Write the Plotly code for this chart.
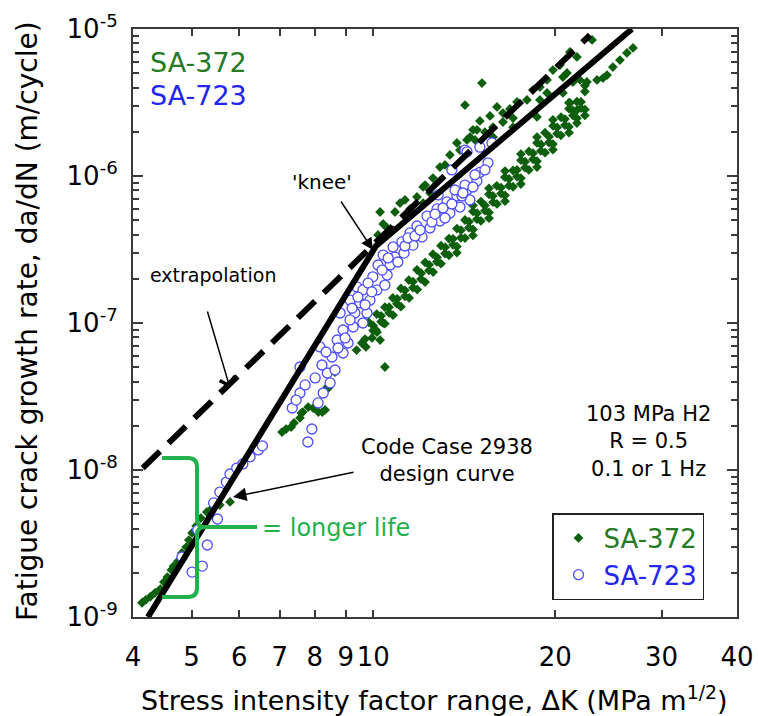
import plotly.graph_objects as go

# ---------------- data ----------------
# SA-372 (green diamonds)
sa372_dk = [
    # low-dK strand
    4.14, 4.20, 4.27, 4.35, 4.44, 4.50, 4.56, 4.63, 4.67, 4.75, 4.82, 4.90, 4.95, 5.01, 5.09, 5.18, 5.30, 5.41, 5.57, 5.79,
    # mid cluster
    7.06, 7.17, 7.31, 7.39, 7.56, 7.60, 7.64, 7.80, 7.95, 8.11, 8.23, 8.32, 8.42,
    8.39, 8.64, 9.38, 9.57, 9.72, 9.95, 10.26, 10.10, 10.38, 10.45,
    # main band
    9.83, 10.45, 11.11, 11.81, 12.55, 13.34, 14.18, 15.07, 16.01, 17.03, 18.10, 19.24, 20.45, 21.73,
    10.13, 10.77, 11.45, 12.18, 12.94, 13.75, 14.62, 15.54, 16.51, 17.56, 18.66, 19.84, 21.08, 22.40,
    9.99, 10.62, 11.28, 12.00, 12.75, 13.55, 14.40, 15.30, 16.27, 17.29, 18.38, 19.54, 20.76, 22.07,
    10.30, 10.95, 11.63, 12.37, 13.15, 13.97, 14.85, 15.77, 16.77, 17.83, 18.95, 20.15, 21.40,
    9.69, 10.30, 10.94, 11.63, 12.36, 13.14, 13.96, 14.84, 15.78, 16.77, 17.83, 18.94, 20.14, 21.40,
    9.99, 10.62, 11.28, 11.99, 12.74, 13.55, 14.39, 15.30, 16.27, 17.29, 18.38, 19.53, 20.76, 22.06,
    10.14, 10.78, 11.46, 12.18, 12.94, 13.75, 14.62, 15.54, 16.52, 17.55, 18.66, 19.83, 21.08, 22.40,
    10.45, 11.11, 11.82, 12.56, 13.34, 14.18, 15.07, 16.02, 17.03, 18.09, 19.24, 20.44, 21.73,
    14.62, 15.54, 16.52, 17.55, 18.66, 19.83, 21.08, 22.40,
    13.75, 14.62, 15.54, 16.52, 17.55, 18.66, 19.83, 21.08, 22.40,
    # scatter near the extrapolation line and upper tail
    10.18, 10.38, 10.54, 10.78, 10.26, 11.07, 11.37, 11.50, 11.81, 12.09, 12.09, 12.41, 12.55, 12.89,
    13.39, 13.75, 14.18, 14.29, 14.45, 14.62, 14.84, 15.01, 15.13, 15.60, 15.78, 16.02, 16.39, 16.83,
    17.03, 17.29, 17.96, 18.38, 18.66, 18.87, 18.87, 19.39, 19.39, 19.83, 20.37, 20.60, 20.60, 20.92,
    21.16, 21.16, 21.40, 21.73, 21.73, 21.73, 21.98, 22.57, 23.02, 23.46, 24.00, 24.37, 24.92, 25.60,
    26.29, 26.91,
    14.73, 15.30, 15.78, 16.39, 17.03, 13.91, 13.14, 12.18, 11.28, 10.86,
]
sa372_dadn = [
    1.25e-9, 1.31e-9, 1.37e-9, 1.46e-9, 1.55e-9, 1.73e-9, 1.87e-9, 2.09e-9, 2.22e-9, 2.40e-9, 2.73e-9, 2.99e-9, 3.34e-9, 3.73e-9, 4.16e-9, 4.71e-9, 5.18e-9, 5.51e-9, 5.78e-9, 6.06e-9,
    1.81e-8, 1.90e-8, 1.96e-8, 2.09e-8, 2.26e-8, 2.44e-8, 2.48e-8, 2.68e-8, 2.64e-8, 2.48e-8, 2.48e-8, 2.56e-8, 3.61e-8,
    3.67e-8, 4.64e-8, 6.55e-8, 7.31e-8, 6.87e-8, 7.91e-8, 7.66e-8, 8.96e-8, 1.00e-7, 5.02e-8,
    1.01e-7, 1.28e-7, 1.72e-7, 2.30e-7, 2.94e-7, 3.75e-7, 5.02e-7, 6.70e-7, 8.58e-7, 1.09e-6, 1.47e-6, 1.97e-6, 2.51e-6, 3.20e-6,
    1.15e-7, 1.48e-7, 1.96e-7, 2.58e-7, 3.36e-7, 4.39e-7, 5.74e-7, 7.50e-7, 9.81e-7, 1.28e-6, 1.68e-6, 2.19e-6, 2.87e-6, 3.75e-6,
    9.60e-8, 1.28e-7, 1.67e-7, 2.18e-7, 2.80e-7, 3.74e-7, 4.89e-7, 6.30e-7, 8.35e-7, 1.10e-6, 1.43e-6, 1.85e-6, 2.44e-6, 3.19e-6,
    1.12e-7, 1.46e-7, 1.91e-7, 2.49e-7, 3.27e-7, 4.28e-7, 5.59e-7, 7.31e-7, 9.55e-7, 1.25e-6, 1.64e-6, 2.14e-6, 2.79e-6,
    7.78e-8, 1.02e-7, 1.35e-7, 1.74e-7, 2.28e-7, 2.97e-7, 3.80e-7, 5.08e-7, 6.64e-7, 8.60e-7, 1.14e-6, 1.48e-6, 1.94e-6, 2.58e-6,
    8.89e-8, 1.17e-7, 1.52e-7, 1.99e-7, 2.61e-7, 3.40e-7, 4.45e-7, 5.81e-7, 7.59e-7, 9.92e-7, 1.30e-6, 1.69e-6, 2.22e-6, 2.90e-6,
    8.66e-8, 1.13e-7, 1.48e-7, 1.90e-7, 2.53e-7, 3.31e-7, 4.33e-7, 5.65e-7, 7.39e-7, 9.66e-7, 1.26e-6, 1.65e-6, 2.16e-6, 2.83e-6,
    9.90e-8, 1.29e-7, 1.69e-7, 2.22e-7, 2.89e-7, 3.78e-7, 4.95e-7, 6.46e-7, 8.45e-7, 1.10e-6, 1.44e-6, 1.89e-6, 2.47e-6,
    6.31e-7, 8.25e-7, 1.08e-6, 1.41e-6, 1.84e-6, 2.41e-6, 3.15e-6, 4.12e-6,
    3.01e-7, 3.94e-7, 5.16e-7, 6.74e-7, 8.81e-7, 1.15e-6, 1.51e-6, 1.97e-6, 2.58e-6,
    3.97e-7, 4.72e-7, 4.43e-7, 4.29e-7, 5.69e-7, 6.55e-7, 5.34e-7, 5.97e-7, 7.20e-7, 6.55e-7, 8.42e-7, 7.66e-7, 9.69e-7, 1.15e-6,
    1.39e-6, 1.68e-6, 3.04e-6, 1.76e-6, 1.84e-6, 2.06e-6, 2.06e-6, 2.37e-6, 4.29e-6, 2.56e-6, 2.15e-6, 2.95e-6, 2.68e-6, 2.86e-6,
    2.15e-6, 3.19e-6, 3.29e-6, 3.85e-6, 2.52e-6, 3.29e-6, 4.03e-6, 4.50e-6, 3.67e-6, 5.26e-6, 5.69e-6, 4.71e-6, 3.67e-6, 5.02e-6,
    6.98e-6, 3.14e-6, 4.36e-6, 6.45e-6, 2.81e-6, 2.29e-6, 4.50e-6, 4.36e-6, 8.42e-6, 4.50e-6, 4.64e-6, 4.86e-6, 5.51e-6, 6.15e-6,
    6.87e-6, 7.43e-6,
    1.76e-6, 1.99e-6, 1.84e-6, 2.33e-6, 2.48e-6, 1.50e-6, 1.19e-6, 8.68e-7, 6.87e-7, 5.69e-7,
]

# SA-723 (blue open circles)
sa723_dk = [
    4.82, 5.01, 5.21, 5.31, 5.12, 5.52, 5.44, 5.57, 5.71, 5.79, 5.94, 6.08, 6.25, 6.45, 6.55,
    7.34, 7.56, 7.56, 7.79, 7.91, 8.10, 8.26, 8.39, 8.48, 8.64, 8.54, 8.16, 8.71, 8.91, 8.91,
    9.08, 8.81, 9.15, 9.26, 9.32, 9.39, 9.50, 9.61, 9.61, 9.76, 9.87, 9.98, 10.14, 10.18, 10.38,
    10.54, 10.66, 10.86, 10.78, 11.15, 11.24, 11.50, 11.63, 11.81, 12.04, 12.27, 12.41, 12.75, 12.89,
    13.24, 13.39, 13.75, 13.91, 14.29, 14.45, 14.84, 15.01, 15.48, 13.49, 14.18, 15.01, 15.72, 12.80,
    7.45, 7.71, 8.01, 8.22, 8.35, 8.74, 8.98, 9.15, 9.22, 9.43, 9.69, 9.80, 9.94, 10.34, 10.45,
    10.58, 10.98, 11.28, 11.41, 11.72, 11.95, 12.50, 12.65, 13.04, 13.14, 13.49, 13.65, 14.02, 14.18,
    14.73, 15.30, 14.07, 14.62, 14.29,
]
sa723_dadn = [
    2.56e-9, 2.02e-9, 2.22e-9, 3.09e-9, 3.91e-9, 4.64e-9, 5.97e-9, 7.08e-9, 8.28e-9, 9.39e-9, 1.03e-8, 1.10e-8, 1.23e-8, 1.37e-8, 1.46e-8,
    2.64e-8, 3.34e-8, 5.02e-8, 1.55e-8, 1.90e-8, 2.86e-8, 3.34e-8, 4.57e-8, 3.91e-8, 4.79e-8, 5.87e-8, 6.87e-8, 7.66e-8, 6.25e-8, 8.96e-8,
    7.31e-8, 1.17e-7, 1.43e-7, 9.39e-8, 1.17e-7, 1.76e-7, 1.37e-7, 1.00e-7, 1.68e-7, 1.17e-7, 1.43e-7, 2.06e-7, 1.68e-7, 2.48e-7, 2.90e-7,
    2.12e-7, 2.48e-7, 2.81e-7, 3.29e-7, 3.56e-7, 2.99e-7, 4.10e-7, 3.39e-7, 4.57e-7, 3.85e-7, 5.34e-7, 4.43e-7, 5.97e-7, 4.94e-7,
    6.66e-7, 5.60e-7, 7.31e-7, 6.15e-7, 8.03e-7, 6.87e-7, 9.25e-7, 1.06e-6, 1.23e-6, 1.10e-6, 1.50e-6, 1.57e-6, 1.68e-6, 7.43e-7,
    2.99e-8, 3.79e-8, 4.23e-8, 5.18e-8, 6.35e-8, 6.76e-8, 7.91e-8, 1.05e-7, 1.26e-7, 1.50e-7, 1.33e-7, 1.87e-7, 1.63e-7, 2.29e-7, 1.81e-7,
    2.77e-7, 2.60e-7, 3.34e-7, 3.79e-7, 3.91e-7, 4.29e-7, 4.87e-7, 5.51e-7, 6.06e-7, 5.18e-7, 6.45e-7, 8.03e-7, 7.31e-7, 8.68e-7,
    1.02e-6, 1.10e-6, 7.66e-7, 8.42e-7, 1.46e-6,
]

# Code Case 2938 design curve (two power-law segments meeting at the knee) and extrapolation
design_dk = [4.235, 10.1, 26.8]
design_dadn = [1.0e-9, 3.34e-7, 1.0e-5]
extrap_dk = [4.15, 22.84]
extrap_dadn = [1.03e-8, 9.1e-6]

x_tickvals = [4, 5, 6, 7, 8, 9, 10, 20, 30, 40]
x_ticktext = ["4", "5", "6", "7", "8", "9", "10", "20", "30", "40"]
y_tickvals = [1e-9, 1e-8, 1e-7, 1e-6, 1e-5]
y_ticktext = ["10<sup>-9</sup>", "10<sup>-8</sup>", "10<sup>-7</sup>", "10<sup>-6</sup>", "10<sup>-5</sup>"]
y_minor = [k * 10.0 ** d for d in range(-9, -5) for k in range(2, 10)]

FONT = "DejaVu Sans"
GREEN = "#0d5f0d"
GREEN_TXT = "#267a26"
BLUE = "#4d4dff"
BLUE_TXT = "#2525f0"
BRACKET = "#22b14c"
AX = "#3a3a3a"

fig = go.Figure()
fig.add_trace(go.Scatter(
    x=sa372_dk, y=sa372_dadn, mode="markers",
    name='<span style="color:%s">SA-372</span>' % GREEN_TXT,
    marker=dict(symbol="diamond", size=7.5, color=GREEN, line=dict(width=0)),
))
fig.add_trace(go.Scatter(
    x=sa723_dk, y=sa723_dadn, mode="markers",
    name='<span style="color:%s">SA-723</span>' % BLUE_TXT,
    marker=dict(symbol="circle", size=10, color="white", line=dict(color=BLUE, width=1.3)),
))
fig.add_trace(go.Scatter(
    x=extrap_dk, y=extrap_dadn, mode="lines", showlegend=False,
    line=dict(color="black", width=6, dash="24px,12px"),
))
fig.add_trace(go.Scatter(
    x=design_dk, y=design_dadn, mode="lines", showlegend=False,
    line=dict(color="black", width=6),
))

# paper-coordinate helpers for the plot box: left 133, right 737, top 29, bottom 617
L, R, T, B = 133, 737, 29, 617
def px(x):
    return (x - L) / (R - L)
def py(y):
    return (B - y) / (B - T)

bracket_path = (
    f"M {px(162)},{py(458)} L {px(188)},{py(458)} Q {px(197)},{py(458)} {px(197)},{py(467)} "
    f"L {px(197)},{py(519)} Q {px(197)},{py(527)} {px(205)},{py(527)} L {px(257)},{py(527)} "
    f"M {px(205)},{py(527)} Q {px(197)},{py(527)} {px(197)},{py(535)} "
    f"L {px(197)},{py(588)} Q {px(197)},{py(597)} {px(188)},{py(597)} L {px(162)},{py(597)}"
)
fig.add_shape(type="path", path=bracket_path, xref="paper", yref="paper",
              line=dict(color=BRACKET, width=4))

ann = []
def text(x, y, s, size, color="black", xanchor="center", angle=0):
    ann.append(dict(x=x, y=y, xref="paper", yref="paper", text=s, showarrow=False,
                    xanchor=xanchor, yanchor="middle", textangle=angle,
                    font=dict(family=FONT, size=size, color=color)))
def arrow(xt, yt, xs, ys, head, size):
    ann.append(dict(x=px(xt), y=py(yt), xref="paper", yref="paper", text="",
                    showarrow=True, ax=xs - xt, ay=ys - yt, arrowhead=head,
                    arrowsize=size, arrowwidth=1.5, arrowcolor="black", standoff=0))

text(px(148), py(62), "SA-372", 27, GREEN_TXT, xanchor="left")
text(px(148), py(95), "SA-723", 27, BLUE_TXT, xanchor="left")
text(px(322), py(182), "'knee'", 20)
arrow(373, 250, 340, 200, 2, 1.6)
text(px(213), py(275), "extrapolation", 19)
arrow(230, 388, 207, 310, 4, 2.0)
text(px(447), py(460), "Code Case 2938<br>design curve", 21)
arrow(233, 497, 355, 472, 2, 1.8)
text(px(648), py(442), "103 MPa H2<br>R = 0.5<br>0.1 or 1 Hz", 21)
text(px(260), py(528), "= longer life", 24, BRACKET, xanchor="left")
text(px(434), py(698), "Stress intensity factor range, \u0394K (MPa m<sup>1/2</sup>)", 27)
text(px(27), py(321), "Fatigue crack growth rate, da/dN (m/cycle)", 28, angle=-90)

fig.update_layout(
    width=758, height=716,
    margin=dict(l=L, r=758 - R, t=T, b=716 - B, autoexpand=False),
    paper_bgcolor="white", plot_bgcolor="white",
    font=dict(family=FONT, color="black"),
    annotations=ann,
    legend=dict(x=px(552), y=py(513), xanchor="left", yanchor="top",
                bgcolor="white", bordercolor="#222", borderwidth=1.5,
                font=dict(family=FONT, size=26), itemwidth=40, tracegroupgap=0),
)
fig.update_xaxes(
    type="log", range=[0.60206, 1.60206], showgrid=False, zeroline=False,
    showline=True, linecolor=AX, linewidth=2, mirror="allticks",
    ticks="inside", ticklen=7, tickwidth=1.5, tickcolor=AX,
    tickmode="array", tickvals=x_tickvals, ticktext=x_ticktext,
    tickfont=dict(family=FONT, size=26, color="black"), ticklabelstandoff=16,
)
fig.update_yaxes(
    type="log", range=[-9, -5], showgrid=False, zeroline=False,
    showline=True, linecolor=AX, linewidth=2, mirror="allticks",
    ticks="inside", ticklen=10, tickwidth=1.5, tickcolor=AX,
    tickmode="array", tickvals=y_tickvals, ticktext=y_ticktext,
    tickfont=dict(family=FONT, size=26, color="black"), ticklabelstandoff=8,
    minor=dict(tickmode="array", tickvals=y_minor, ticks="inside", ticklen=6,
               tickwidth=1.5, tickcolor=AX, showgrid=False),
)

fig.write_html("out.html", config={"displayModeBar": False},
               post_script="document.body.style.margin='0';document.body.style.padding='0';")
